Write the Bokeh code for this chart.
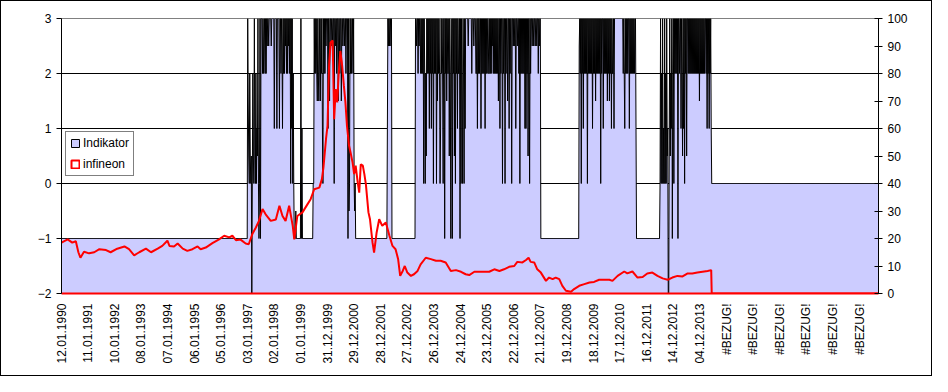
import numpy as np
from bokeh.plotting import figure
from bokeh.layouts import column
from bokeh.models import Range1d, LinearAxis, FixedTicker, Legend, LegendItem
from bokeh.embed import file_html
from bokeh.resources import INLINE

# ---------------- data ----------------
N_WEEKS = 1598  # weekly categories, first = 12.01.1990

tick_weeks = list(range(0, 1561, 52))
tick_labels = ["12.01.1990", "11.01.1991", "10.01.1992", "08.01.1993", "07.01.1994",
               "06.01.1995", "05.01.1996", "03.01.1997", "02.01.1998", "01.01.1999",
               "31.12.1999", "29.12.2000", "28.12.2001", "27.12.2002", "26.12.2003",
               "24.12.2004", "23.12.2005", "22.12.2006", "21.12.2007", "19.12.2008",
               "18.12.2009", "17.12.2010", "16.12.2011", "14.12.2012", "04.12.2013",
               "#BEZUG!", "#BEZUG!", "#BEZUG!", "#BEZUG!", "#BEZUG!", "#BEZUG!"]

# Indikator: level held from each start week
ind_base_start = [0, 364, 390, 455, 492, 494, 575, 637, 646, 692, 937, 1012, 1124, 1170, 1196, 1271]
ind_base_level = [-1, 0, 3, -1, 0, 3, -1, 3, -1, 3, -1, 3, -1, 0.5, 3, 0]

# Indikator: single weeks that differ from the held level (week, level)
ind_dev = [
    (364, 3), (365, 1.5), (366, 0.5), (368, 2), (369, 0.5), (371, 0.5), (372, -2), (374, 2),
    (375, 0.5), (377, 3), (378, 0.5), (380, 2), (382, 1), (383, 0.5), (384, 3), (386, -1),
    (388, 3), (389, -1),
    (393, 2), (395, 2), (396, 2.5), (398, 2), (400, 2), (402, 2.5), (405, 2.5), (410, 2.5),
    (416, 1), (421, 1), (426, 1), (429, 2), (431, 2.5), (432, 1), (434, 2), (436, 2),
    (438, 2.5), (440, 2), (442, 2), (444, 2.5), (446, 2), (448, 0), (450, 1), (452, 0),
    (453, 2), (454, 0),
    (458, -0.5), (468, 3), (470, 1),
    (495, 2), (497, 2), (499, 2), (500, 1.5), (502, 2), (503, 1.5), (505, 2), (506, 1.5),
    (508, 2), (510, 1), (511, 0), (513, 2), (515, 2), (517, 2.5), (521, 1), (524, 1.5),
    (527, 2.5), (530, 2.5), (533, 0), (536, 2.5), (538, 2), (541, 1.5), (544, 2), (547, 1.5),
    (550, 2.5), (553, 2.5), (556, 2), (560, -1), (562, -0.5), (563, 0), (565, 2), (567, 2),
    (568, 2.5), (570, 2), (572, 0), (573, -0.5), (574, 0),
    (637, 1), (639, 2.5), (641, 2.5), (644, 2.5),
    (694, 2.5), (697, 2), (699, 2.5), (702, 2), (704, 2), (706, 2), (708, 0), (710, 2),
    (711, 0), (712, 2), (713, 0.5), (715, 2), (717, 2), (719, 1), (721, 2), (723, 1),
    (725, 2), (727, 0), (729, 2), (731, 2), (733, 0), (735, 1.5), (737, 2), (739, 2),
    (740, 0), (741, 1), (743, 2), (745, 2), (746, 0), (749, -1), (751, 2), (753, 1.5),
    (755, 2), (756, 2), (758, 0.5), (760, 2), (761, -1), (762, 2), (764, -1), (766, 2),
    (768, 0.5), (770, 0), (772, 2), (774, 1), (776, 2), (777, 2), (779, -1), (781, 0),
    (783, 2), (784, 0), (786, 2), (787, 0), (789, 1), (795, 2.5), (802, 2), (806, 2.5),
    (810, 2), (811, 2), (813, 1), (815, 2), (817, 2), (820, 1), (822, 2), (824, 2),
    (826, 2), (828, 1), (830, 2), (832, 2), (835, 2), (836, 2), (838, 2), (840, 2),
    (842, 2.5), (844, 2), (846, 2), (848, 2), (850, 2), (852, 2), (854, 1.5), (857, 1),
    (859, 2), (862, 0), (864, 2), (867, 0), (869, 2), (872, 1.5), (875, 1), (877, 2),
    (880, 0), (883, 2.5), (885, 2.5), (888, 1), (891, 2.5), (894, 2), (896, 0), (898, 2),
    (900, 2), (902, 2), (904, 2), (906, 1), (908, 1), (910, 2), (912, 0.5), (915, 0),
    (917, 2), (920, 2.5), (923, 2.5), (926, 2.5), (929, 2.5), (932, 2), (934, 2.5),
    (1012, 2.5), (1014, 2), (1016, 0), (1018, 2), (1020, 1), (1022, 2), (1024, 2), (1026, 2),
    (1028, 0), (1030, 2), (1032, 2), (1034, 2), (1036, 2), (1038, 1), (1040, 2), (1042, 2),
    (1044, 1.5), (1046, 2), (1048, 2), (1050, 2), (1052, 2), (1054, 0), (1056, 2), (1059, 1),
    (1061, 2), (1063, 2), (1065, 2), (1067, 1.5), (1069, 2), (1071, 1.5), (1073, 2), (1075, 1),
    (1077, 2), (1078, 2), (1080, 1), (1098, 2), (1100, 2), (1101, 1), (1103, 2), (1105, 2),
    (1107, 2), (1110, 1), (1112, 2), (1114, 2), (1116, 2), (1118, 2), (1120, 2), (1123, 1),
    (1170, 0), (1171, 3), (1172, 0), (1173, 2), (1174, 0), (1175, 3), (1176, 0), (1177, 1),
    (1178, 0), (1179, 3), (1180, 0), (1181, 2), (1182, 0), (1183, 3), (1185, 1), (1186, -2),
    (1187, -2), (1188, 1), (1189, 3), (1191, 2), (1192, 1), (1193, 3), (1194, -1), (1195, 2),
    (1197, 0), (1199, 2), (1201, 2), (1203, 2), (1205, -1), (1208, 2), (1211, 1), (1213, 2),
    (1214, 0.5), (1216, 1), (1218, 0), (1220, 2), (1222, 0.5), (1225, 2), (1227, 2), (1229, 2),
    (1231, 2), (1233, 2), (1235, 2), (1237, 2), (1239, 2), (1241, 2), (1243, 2), (1245, 2),
    (1247, 1.5), (1249, 2), (1251, 2), (1253, 2), (1255, 2), (1257, 2), (1260, 2), (1262, 1),
    (1264, 2), (1266, 1), (1268, 2), (1270, 1),
]

# infineon (right axis), sampled weeks and values
inf_week = [0, 12, 21, 28, 33, 37, 44, 54, 64, 74,
            87, 96, 109, 123, 132, 142, 152, 165, 175, 188,
            197, 207, 211, 220, 227, 237, 246, 256, 266, 272,
            282, 295, 308, 318, 328, 334, 341, 350, 360, 366,
            373, 380, 386, 393, 399, 409, 419, 426, 432, 438,
            445, 452, 455, 461, 471, 481, 487, 494, 504, 509,
            512, 517, 520, 523, 526, 530, 533, 536, 539, 542,
            545, 548, 552, 555, 558, 562, 565, 569, 572, 575,
            579, 582, 585, 589, 592, 595, 600, 603, 608, 611,
            616, 621, 627, 634, 641, 647, 653, 658, 662, 667,
            671, 676, 683, 689, 696, 702, 712, 722, 732, 741,
            751, 761, 771, 781, 790, 797, 807, 816, 826, 836,
            846, 856, 865, 875, 885, 891, 901, 908, 913, 917,
            924, 930, 937, 947, 953, 960, 966, 973, 979, 986,
            996, 1002, 1012, 1022, 1032, 1041, 1051, 1061, 1071, 1077,
            1087, 1100, 1106, 1116, 1126, 1136, 1145, 1155, 1165, 1175,
            1185, 1194, 1204, 1214, 1224, 1233, 1243, 1253, 1263, 1270,
            1271, 1597]
inf_value = [18.5, 19.7, 18.5, 19, 15, 13, 15.2, 14.6, 15, 16.1,
             15.8, 15, 16.3, 17.1, 16.1, 13.9, 15, 16.3, 15, 16.3,
             17.3, 19.2, 17.3, 17.1, 18.2, 16.3, 15.5, 16.1, 17.1, 16.1,
             16.7, 18.3, 19.7, 21, 20.4, 21, 19.4, 19.6, 18.2, 17.9,
             21.6, 24, 26.4, 30.7, 28.8, 26.4, 26.9, 31.9, 28.2, 26.4,
             31.9, 24.6, 19.7, 28.2, 29.5, 32.5, 34.3, 37.9, 38.5, 41.6,
             45.8, 56.1, 61, 82.8, 91.3, 92, 63.4, 74.3, 69.5, 80.4,
             88.2, 84, 75.5, 69.5, 61, 53.8, 51.3, 47.6, 43.4, 46.5,
             40.4, 36.7, 47, 46.5, 43.4, 39.7, 29.5, 27, 18.5, 14.9,
             22.2, 27, 24.6, 25.8, 21, 17.3, 16.1, 12.5, 6.4, 8.2,
             10, 7.6, 6.4, 7, 8.2, 10.6, 13, 12.5, 11.9, 11.9,
             11.3, 8.2, 8.5, 7.9, 7, 6.7, 7.9, 7.9, 7.9, 7.9,
             8.8, 8.2, 8.8, 9.7, 10, 11.5, 11.3, 12.2, 13, 11.5,
             11.3, 8.8, 7.6, 4.6, 5.8, 5.2, 5.8, 5.2, 2.8, 1,
             0.6, 1.6, 2.8, 3.4, 4, 4.2, 5, 5, 5, 4.6,
             6.4, 8, 7.3, 8, 5.8, 6, 7.3, 7.6, 6.4, 5.5,
             5, 5.8, 6.4, 6.2, 7.3, 7.3, 7.6, 7.9, 8.2, 8.5,
             0, 0]

left_ticks = [-2, -1, 0, 1, 2, 3]
right_ticks = [0, 10, 20, 30, 40, 50, 60, 70, 80, 90, 100]
series_names = ["Indikator", "infineon"]

# ---------------- build series ----------------
weeks = np.arange(N_WEEKS)
indikator = np.zeros(N_WEEKS)
bounds = ind_base_start + [N_WEEKS]
for s, e, lv in zip(bounds[:-1], bounds[1:], ind_base_level):
    indikator[s:e] = lv
for w, v in ind_dev:
    indikator[w] = v

LAV = "#CCCCFF"
RED = "#FF0000"
FONT = "Liberation Sans"

p = figure(width=930, height=374, x_range=Range1d(0, N_WEEKS - 1), y_range=Range1d(-2, 3),
           output_backend="svg", toolbar_location=None,
           min_border_left=60, min_border_right=53, min_border_top=17, min_border_bottom=82)
p.title.visible = False
p.background_fill_color = "white"
p.border_fill_color = "white"
p.outline_line_color = "#808080"

p.extra_y_ranges = {"right": Range1d(0, 100)}

# area + outline
p.varea(x=weeks, y1=-2, y2=indikator, fill_color=LAV, fill_alpha=1.0)
p.line(x=weeks, y=indikator, line_color="black", line_width=1)

# infineon line
p.line(x=inf_week, y=inf_value, y_range_name="right", line_color=RED, line_width=2)

# grid
p.xgrid.visible = False
p.ygrid.ticker = FixedTicker(ticks=[-1, 0, 1, 2])
p.ygrid.grid_line_color = "black"
p.ygrid.grid_line_width = 1

# x axis
xa = p.xaxis[0]
xa.ticker = FixedTicker(ticks=tick_weeks)
xa.major_label_overrides = {w: lab for w, lab in zip(tick_weeks, tick_labels)}
xa.major_label_orientation = np.pi / 2
xa.major_tick_out = 0
xa.major_tick_in = 0
xa.minor_tick_out = 0
xa.minor_tick_in = 0
xa.axis_line_color = RED
xa.axis_line_width = 2
xa.major_label_standoff = 10
xa.major_label_text_font = FONT
xa.major_label_text_font_size = "12px"
xa.major_label_text_color = "black"

# left axis
ya = p.yaxis[0]
ya.ticker = FixedTicker(ticks=left_ticks)
ya.major_tick_out = 5
ya.major_tick_in = 0
ya.minor_tick_out = 0
ya.minor_tick_in = 0
ya.axis_line_color = "black"
ya.major_tick_line_color = "black"
ya.major_label_standoff = 5
ya.major_label_text_font = FONT
ya.major_label_text_font_size = "12px"
ya.major_label_text_color = "black"

# right axis
ra = LinearAxis(y_range_name="right", ticker=FixedTicker(ticks=right_ticks))
ra.major_tick_out = 4
ra.major_tick_in = 4
ra.minor_tick_out = 0
ra.minor_tick_in = 0
ra.axis_line_color = "black"
ra.major_tick_line_color = "black"
ra.major_label_standoff = 5
ra.major_label_text_font = FONT
ra.major_label_text_font_size = "12px"
ra.major_label_text_color = "black"
p.add_layout(ra, "right")

# legend swatches: one quad each, placed outside the visible x range
sw1 = p.quad(left=[-50], right=[-40], top=[0], bottom=[-1],
             fill_color=LAV, line_color="black", line_width=1)
sw2 = p.quad(left=[-50], right=[-40], top=[0], bottom=[-1],
             fill_color="white", line_color=RED, line_width=2)
legend = Legend(items=[LegendItem(label=series_names[0], renderers=[sw1]),
                       LegendItem(label=series_names[1], renderers=[sw2])],
                location=(4, 117), orientation="vertical",
                border_line_color="black", border_line_width=1,
                background_fill_color="white", background_fill_alpha=1.0,
                label_text_font=FONT, label_text_font_size="12px", label_text_color="black",
                glyph_width=10, glyph_height=10, label_height=14, label_standoff=3,
                spacing=7, padding=4, margin=0)
p.add_layout(legend)

layout = column(p, styles={"border": "1px solid black", "background-color": "white"})

open("out.html", "w").write(file_html(layout, INLINE))
